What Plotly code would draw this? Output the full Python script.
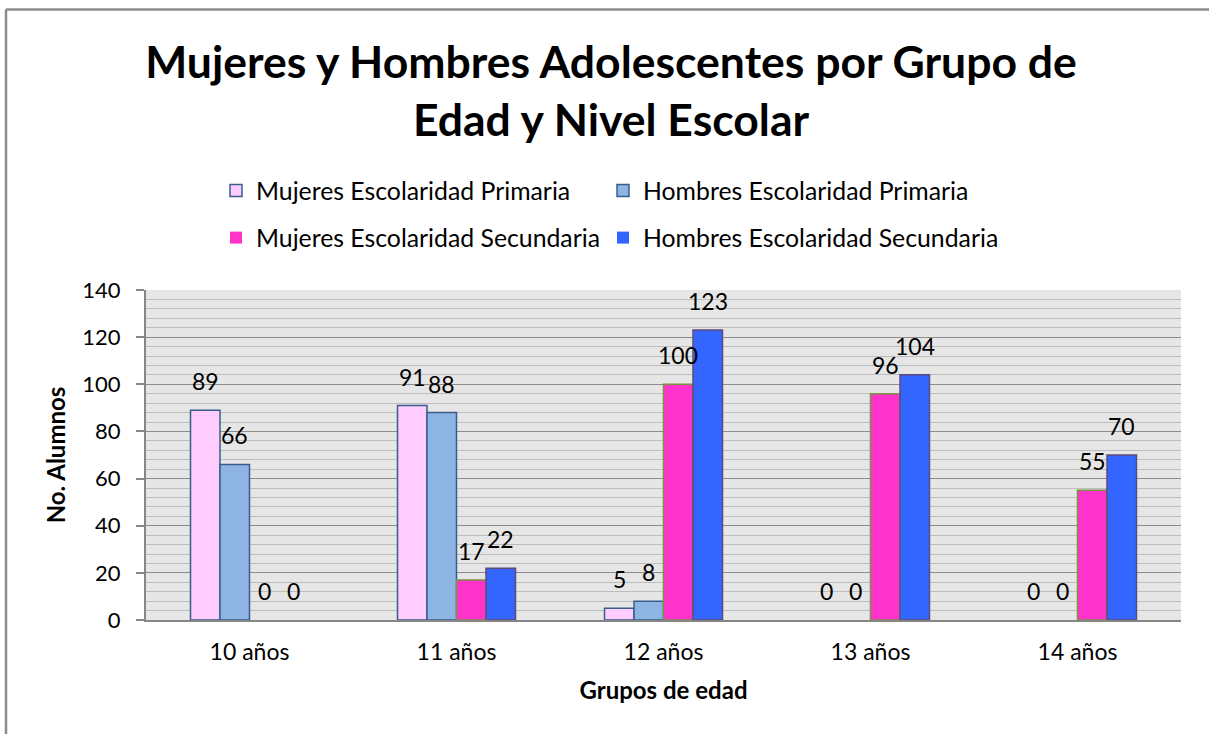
import plotly.graph_objects as go

categories = ["10 años", "11 años", "12 años", "13 años", "14 años"]
series_names = [
    "Mujeres Escolaridad Primaria",
    "Hombres Escolaridad Primaria",
    "Mujeres Escolaridad Secundaria",
    "Hombres Escolaridad Secundaria",
]
mujeres_primaria = [89, 91, 5, 0, 0]
hombres_primaria = [66, 88, 8, 0, 0]
mujeres_secundaria = [0, 17, 100, 96, 55]
hombres_secundaria = [0, 22, 123, 104, 70]
y_ticks = [0, 20, 40, 60, 80, 100, 120, 140]

values = [mujeres_primaria, hombres_primaria, mujeres_secundaria, hombres_secundaria]
fills = ["#FFCCFF", "#8EB4E3", "#FF33CC", "#3366FF"]
borders = ["#385D8A", "#385D8A", "#77933C", "#5F497A"]
legend_ids = ["legend", "legend2", "legend3", "legend4"]

FONT = "Lato"
BARGAP = 0.43

L, R, T, B = 146, 28, 290, 114
W, H = 1209, 734
pw, ph = W - L - R, H - T - B
bar_px = pw / len(categories) * (1 - BARGAP) / len(values)

def px_x(p):
    return (p - L) / pw

def px_y(p):
    return (H - B - p) / ph

fig = go.Figure()
annotations = []
for i, (name, vals, fc, bc, lg) in enumerate(zip(series_names, values, fills, borders, legend_ids)):
    fig.add_trace(go.Bar(
        x=categories, y=vals, name=name, showlegend=True,
        marker=dict(color=fc, line=dict(color=bc, width=[1.5 if v else 0 for v in vals])),
        legend=lg,
    ))
    for c, v in zip(categories, vals):
        annotations.append(dict(
            x=c, y=v, xref="x", yref="y", text=str(v), showarrow=False,
            xshift=(i - 1.5) * bar_px, yshift=13, yanchor="bottom",
            font=dict(size=23, family=FONT, color="black"),
        ))

# legend placement (window pixels): two columns, two rows
leg_cols = [216, 603]
leg_rows = [191, 238]
legend_layout = {}
for k, lg in enumerate(legend_ids):
    legend_layout[lg] = dict(
        visible=True,
        orientation="h", x=px_x(leg_cols[k % 2]), xanchor="left",
        y=px_y(leg_rows[k // 2]), yanchor="middle",
        font=dict(size=24.8, family=FONT), bgcolor="rgba(0,0,0,0)",
    )

fig.update_layout(
    width=W, height=H, showlegend=True,
    margin=dict(l=L, r=R, t=T, b=B, autoexpand=False),
    paper_bgcolor="white", plot_bgcolor="#E6E6E6",
    barmode="group", bargap=BARGAP, bargroupgap=0,
    font=dict(family=FONT, color="black", size=21),
    title=dict(
        text="<b>Mujeres y Hombres Adolescentes por Grupo de<br>Edad y Nivel Escolar</b>",
        x=611 / W, xref="container", xanchor="center",
        y=1 - 78 / H, yref="container", yanchor="middle",
        font=dict(size=44.5, family=FONT, color="black"),
    ),
    xaxis=dict(
        showgrid=False, showline=True, linecolor="#868686", linewidth=2,
        ticks="", tickfont=dict(size=23), ticklabelstandoff=10,
        title=dict(text="<b>Grupos de edad</b>", font=dict(size=24), standoff=19),
    ),
    yaxis=dict(
        range=[0, 140], tickvals=y_ticks, showline=True, linecolor="#868686", linewidth=2,
        ticks="outside", ticklen=8, tickcolor="#868686", tickwidth=1.5,
        gridcolor="#8C8C8C", gridwidth=1.3, zeroline=False,
        tickfont=dict(size=22), ticklabelstandoff=11,
        minor=dict(dtick=4, showgrid=True, gridcolor="#BDBDBD", gridwidth=1.3),
        title=dict(text="<b>No. Alumnos</b>", font=dict(size=24), standoff=10),
    ),
    annotations=annotations,
    shapes=[
        dict(type="line", xref="paper", yref="paper",
             x0=px_x(6), x1=px_x(6), y0=px_y(734), y1=px_y(9.5),
             line=dict(color="#8C8C8C", width=2.5)),
        dict(type="line", xref="paper", yref="paper",
             x0=px_x(6), x1=px_x(1209), y0=px_y(9.5), y1=px_y(9.5),
             line=dict(color="#8C8C8C", width=2.5)),
    ],
    **legend_layout,
)

fig.write_html(
    "out.html",
    config={"displayModeBar": False},
    post_script="document.body.style.margin='0';",
)
